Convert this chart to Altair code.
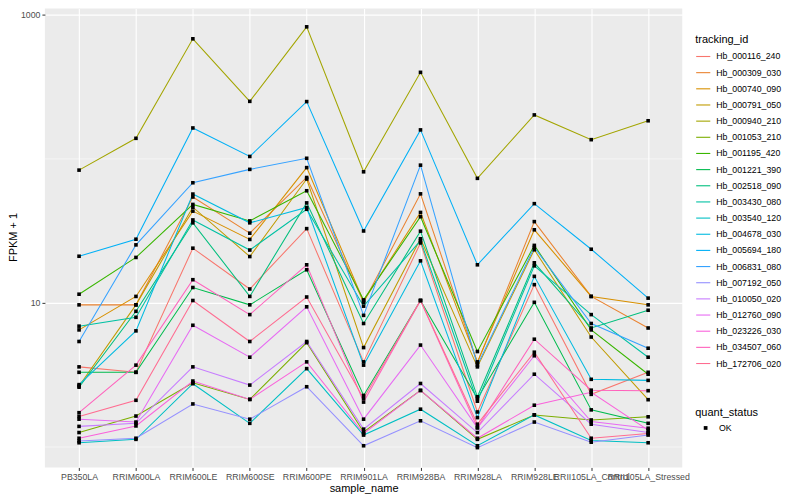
import altair as alt
import pandas as pd

samples = ["PB350LA", "RRIM600LA", "RRIM600LE", "RRIM600SE", "RRIM600PE", "RRIM901LA",
           "RRIM928BA", "RRIM928LA", "RRIM928LE", "RRII105LA_Control", "RRII105LA_Stressed"]

tracking_ids = ["Hb_000116_240", "Hb_000309_030", "Hb_000740_090", "Hb_000791_050", "Hb_000940_210",
                "Hb_001053_210", "Hb_001195_420", "Hb_001221_390", "Hb_002518_090", "Hb_003430_080",
                "Hb_003540_120", "Hb_004678_030", "Hb_005694_180", "Hb_006831_080", "Hb_007192_050",
                "Hb_010050_020", "Hb_012760_090", "Hb_023226_030", "Hb_034507_060", "Hb_172706_020"]

colors = ["#F8766D", "#EA8331", "#D89000", "#C09B00", "#A3A500", "#7CAE00", "#39B600", "#00BB4E",
          "#00BF7D", "#00C1A3", "#00BFC4", "#00BAE0", "#00B0F6", "#35A2FF", "#9590FF", "#C77CFF",
          "#E76BF3", "#FA62DB", "#FF62BC", "#FF6C91"]

hb_000116_240 = [3.6, 3.3, 24.0, 12.5, 32.8, 3.9, 26.1, 1.75, 13.4, 2.32, 3.3]
hb_000309_030 = [9.7, 9.7, 54.4, 30.5, 74.3, 10.1, 57.2, 3.85, 36.7, 11.1, 6.7]
hb_000740_090 = [6.5, 11.1, 43.4, 27.6, 87.0, 10.3, 42.5, 3.9, 32.2, 11.1, 9.7]
hb_000791_050 = [2.65, 9.7, 46.2, 21.0, 72.5, 4.9, 27.9, 3.6, 23.4, 5.8, 2.13]
hb_000940_210 = [83.6, 139, 682, 251, 826, 81.4, 399, 73.3, 202, 136, 184]
hb_001053_210 = [1.26, 1.64, 2.79, 2.14, 5.3, 1.27, 2.47, 1.13, 1.67, 1.54, 1.62]
hb_001195_420 = [11.5, 20.7, 48.3, 37.1, 60.1, 10.5, 39.7, 4.6, 25.1, 6.5, 3.2]
hb_001221_390 = [3.3, 3.3, 12.8, 9.7, 17.0, 2.28, 10.4, 2.17, 10.1, 1.81, 1.46]
hb_002518_090 = [2.60, 8.75, 36.0, 11.1, 49.5, 7.2, 31.5, 2.23, 19.0, 6.7, 8.9]
hb_003430_080 = [6.9, 7.95, 37.7, 23.3, 44.7, 9.5, 27.1, 2.08, 18.1, 8.3, 4.2]
hb_003540_120 = [1.07, 1.13, 2.75, 1.46, 3.5, 1.21, 1.83, 1.02, 1.67, 1.11, 1.07]
hb_004678_030 = [2.71, 6.4, 57.0, 36.0, 46.0, 3.7, 19.6, 1.60, 15.3, 2.95, 2.9]
hb_005694_180 = [21.1, 27.7, 164, 104, 250, 31.6, 159, 18.4, 48.9, 23.6, 10.8]
hb_006831_080 = [5.4, 25.3, 68.3, 84.6, 101, 8.2, 90.5, 3.7, 24.3, 7.2, 4.85]
hb_007192_050 = [1.10, 1.15, 1.99, 1.56, 2.62, 1.02, 1.52, 0.99, 1.49, 1.08, 1.21]
hb_010050_020 = [1.39, 1.46, 3.6, 2.69, 5.4, 1.33, 2.76, 1.26, 3.2, 1.44, 1.26]
hb_012760_090 = [1.56, 1.49, 7.0, 4.2, 9.4, 1.56, 5.1, 1.36, 4.3, 1.50, 1.35]
hb_023226_030 = [1.15, 1.40, 2.87, 2.14, 3.9, 1.24, 2.47, 1.15, 1.95, 2.40, 1.31]
hb_034507_060 = [1.73, 3.7, 14.5, 8.3, 18.4, 2.05, 10.4, 1.36, 5.6, 2.48, 2.46]
hb_172706_020 = [1.63, 2.11, 10.4, 5.4, 11.0, 2.17, 10.4, 1.44, 4.55, 1.15, 1.24]

series = [hb_000116_240, hb_000309_030, hb_000740_090, hb_000791_050, hb_000940_210,
          hb_001053_210, hb_001195_420, hb_001221_390, hb_002518_090, hb_003430_080,
          hb_003540_120, hb_004678_030, hb_005694_180, hb_006831_080, hb_007192_050,
          hb_010050_020, hb_012760_090, hb_023226_030, hb_034507_060, hb_172706_020]

y_major = [10, 1000]
y_minor = [1, 100]

rows = []
for tid, vals in zip(tracking_ids, series):
    for s, v in zip(samples, vals):
        rows.append({"tracking_id": tid, "sample_name": s, "fpkm1": v, "quant_status": "OK"})
df = pd.DataFrame(rows)

FONT = "Liberation Sans"
yscale = alt.Scale(type="log", domain=[0.721, 1105], nice=False, zero=False)
xscale = alt.Scale(type="point", padding=0.6)

x_axis = alt.Axis(title="sample_name", labelOverlap=False, labelAngle=0,
                  labelFontSize=8.8, labelColor="#4D4D4D", labelPadding=2,
                  tickSize=3, tickColor="#333333", domain=False,
                  grid=True, gridColor="white", gridWidth=1.1,
                  titleFontSize=11, titleFontWeight="normal", titleColor="black",
                  titleY=21, titleBaseline="middle", labelFont=FONT, titleFont=FONT)
y_axis = alt.Axis(title="FPKM + 1", values=y_major, format="d",
                  labelFontSize=8.8, labelColor="#4D4D4D", labelPadding=2,
                  tickSize=3, tickColor="#333333", domain=False,
                  grid=True, gridColor="white", gridWidth=1.1,
                  titleFontSize=11, titleFontWeight="normal", titleColor="black",
                  titleX=-31, titleY=229, titleAngle=270, titleBaseline="middle",
                  titleAlign="center", labelFont=FONT, titleFont=FONT)

minor = alt.Chart(pd.DataFrame({"fpkm1": y_minor})).mark_rule(color="white", strokeWidth=0.55).encode(
    y=alt.Y("fpkm1:Q", scale=yscale, axis=y_axis)
)

lines = alt.Chart(df).mark_line(strokeWidth=1.05).encode(
    x=alt.X("sample_name:N", sort=samples, scale=xscale, axis=x_axis),
    y=alt.Y("fpkm1:Q", scale=yscale, axis=y_axis),
    color=alt.Color("tracking_id:N", sort=tracking_ids,
                    scale=alt.Scale(domain=tracking_ids, range=colors),
                    legend=alt.Legend(title="tracking_id", orient="none", legendX=652, legendY=25,
                                      symbolType="stroke", symbolSize=200, symbolStrokeWidth=1.1,
                                      rowPadding=3.2, labelFontSize=8.8, titleFontSize=11,
                                      titleFontWeight="normal", labelOffset=5, titlePadding=4,
                                      labelFont=FONT, titleFont=FONT, labelColor="black",
                                      titleColor="black", padding=0)),
    detail="tracking_id:N",
)

points = alt.Chart(df).mark_point(filled=True, color="black", size=13, opacity=1).encode(
    x=alt.X("sample_name:N", sort=samples, scale=xscale, axis=x_axis),
    y=alt.Y("fpkm1:Q", scale=yscale, axis=y_axis),
    shape=alt.Shape("quant_status:N", scale=alt.Scale(domain=["OK"], range=["square"]),
                    legend=alt.Legend(title="quant_status", orient="none", legendX=652, legendY=399,
                                      symbolSize=14, symbolFillColor="black", symbolStrokeColor="black",
                                      symbolOffset=6, labelOffset=9, labelFontSize=8.8,
                                      titleFontSize=11, titleFontWeight="normal", titlePadding=6,
                                      labelFont=FONT, titleFont=FONT, labelColor="black",
                                      titleColor="black", padding=0)),
)

chart = alt.layer(minor, lines, points).properties(
    width=639, height=460,
    autosize=alt.AutoSizeParams(type="none"),
    padding={"left": 37, "top": 0, "right": 110, "bottom": 30},
).configure(font=FONT).configure_view(fill="#EBEBEB", stroke=None)

chart.save("out.html", embed_options={"renderer": "svg", "actions": False})
